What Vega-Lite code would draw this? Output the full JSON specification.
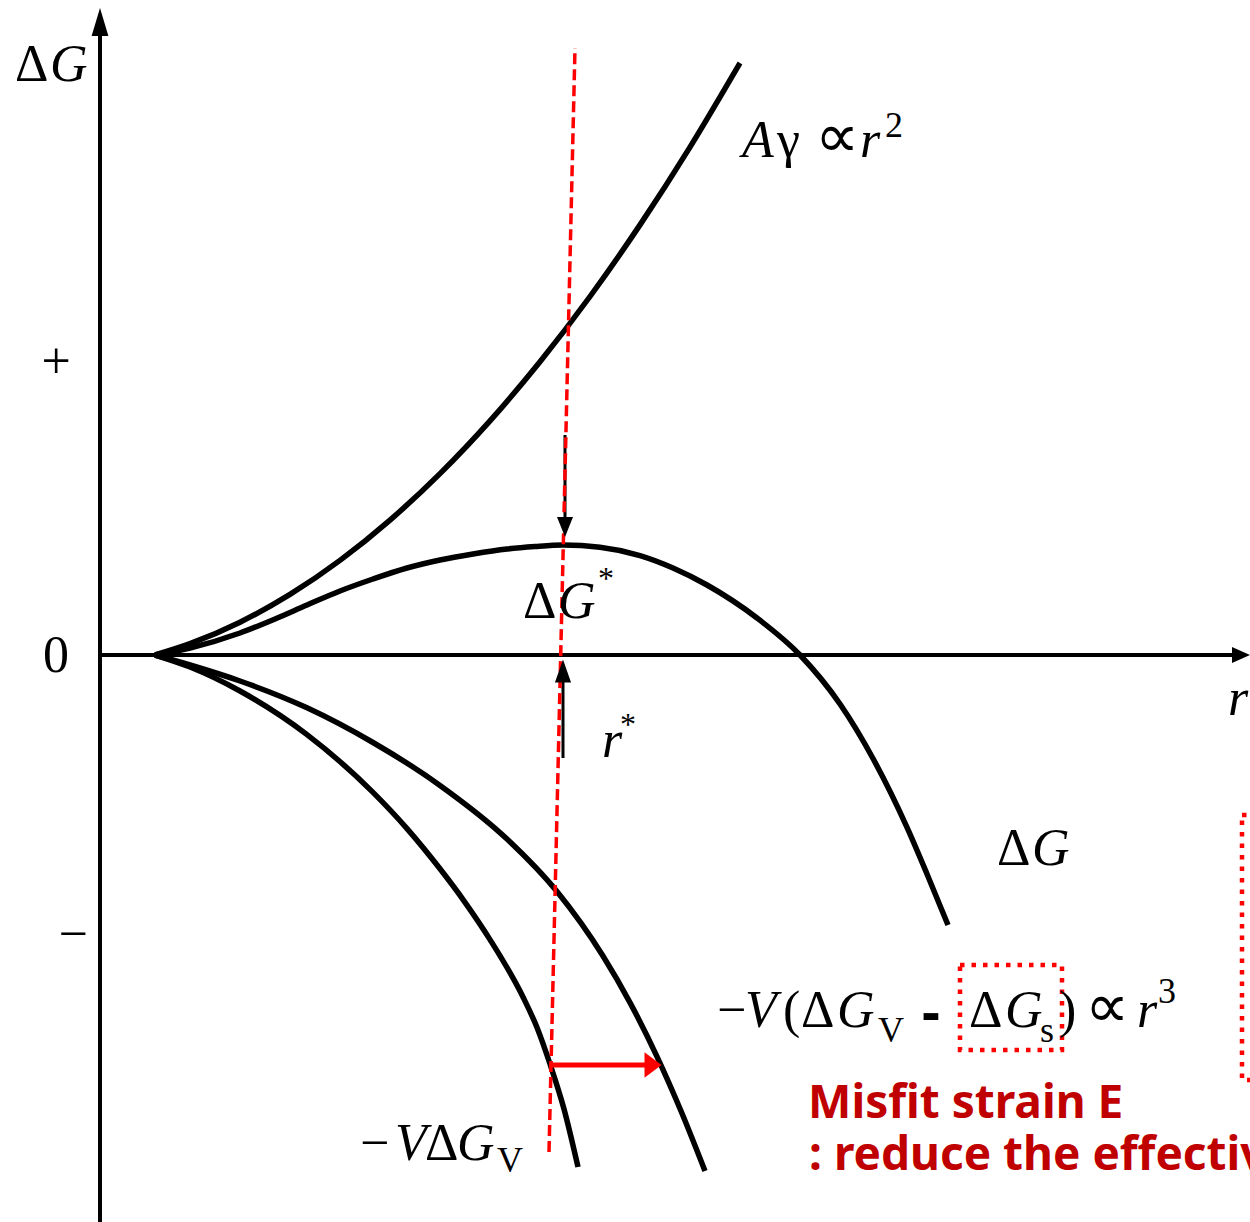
{
  "$schema": "https://vega.github.io/schema/vega-lite/v6.json",
  "width": 1250,
  "height": 1222,
  "autosize": {"type": "none"},
  "padding": 0,
  "background": "white",
  "config": {"view": {"stroke": null}},
  "datasets": {
    "curves": [
      {"curve": "surface", "r": 0.55, "g": 0.0},
      {"curve": "surface", "r": 0.90, "g": 0.113},
      {"curve": "surface", "r": 1.40, "g": 0.328},
      {"curve": "surface", "r": 1.90, "g": 0.606},
      {"curve": "surface", "r": 2.40, "g": 0.946},
      {"curve": "surface", "r": 2.90, "g": 1.349},
      {"curve": "surface", "r": 3.40, "g": 1.814},
      {"curve": "surface", "r": 3.90, "g": 2.342},
      {"curve": "surface", "r": 4.40, "g": 2.932},
      {"curve": "surface", "r": 4.90, "g": 3.585},
      {"curve": "surface", "r": 5.40, "g": 4.301},
      {"curve": "surface", "r": 5.90, "g": 5.079},
      {"curve": "surface", "r": 6.40, "g": 5.92},
      {"curve": "total", "r": 0.55, "g": 0.0},
      {"curve": "total", "r": 0.90, "g": 0.07},
      {"curve": "total", "r": 1.40, "g": 0.22},
      {"curve": "total", "r": 1.75, "g": 0.36},
      {"curve": "total", "r": 2.07, "g": 0.50},
      {"curve": "total", "r": 2.40, "g": 0.64},
      {"curve": "total", "r": 2.73, "g": 0.76},
      {"curve": "total", "r": 3.07, "g": 0.87},
      {"curve": "total", "r": 3.40, "g": 0.95},
      {"curve": "total", "r": 3.73, "g": 1.01},
      {"curve": "total", "r": 4.07, "g": 1.06},
      {"curve": "total", "r": 4.35, "g": 1.085},
      {"curve": "total", "r": 4.63, "g": 1.10},
      {"curve": "total", "r": 5.00, "g": 1.078},
      {"curve": "total", "r": 5.40, "g": 0.994},
      {"curve": "total", "r": 5.73, "g": 0.87},
      {"curve": "total", "r": 6.07, "g": 0.70},
      {"curve": "total", "r": 6.57, "g": 0.37},
      {"curve": "total", "r": 7.00, "g": 0.0},
      {"curve": "total", "r": 7.40, "g": -0.49},
      {"curve": "total", "r": 7.73, "g": -1.035},
      {"curve": "total", "r": 8.07, "g": -1.724},
      {"curve": "total", "r": 8.27, "g": -2.19},
      {"curve": "total", "r": 8.48, "g": -2.70},
      {"curve": "strained", "r": 0.55, "g": 0.0},
      {"curve": "strained", "r": 0.90, "g": -0.10},
      {"curve": "strained", "r": 1.40, "g": -0.26},
      {"curve": "strained", "r": 2.07, "g": -0.528},
      {"curve": "strained", "r": 2.73, "g": -0.875},
      {"curve": "strained", "r": 3.40, "g": -1.304},
      {"curve": "strained", "r": 4.07, "g": -1.84},
      {"curve": "strained", "r": 4.57, "g": -2.365},
      {"curve": "strained", "r": 5.03, "g": -3.01},
      {"curve": "strained", "r": 5.30, "g": -3.476},
      {"curve": "strained", "r": 5.57, "g": -4.016},
      {"curve": "strained", "r": 5.81, "g": -4.56},
      {"curve": "strained", "r": 6.05, "g": -5.16},
      {"curve": "volume", "r": 0.55, "g": 0.0},
      {"curve": "volume", "r": 0.90, "g": -0.12},
      {"curve": "volume", "r": 1.40, "g": -0.36},
      {"curve": "volume", "r": 2.07, "g": -0.796},
      {"curve": "volume", "r": 2.73, "g": -1.374},
      {"curve": "volume", "r": 3.07, "g": -1.736},
      {"curve": "volume", "r": 3.40, "g": -2.138},
      {"curve": "volume", "r": 3.65, "g": -2.473},
      {"curve": "volume", "r": 3.90, "g": -2.846},
      {"curve": "volume", "r": 4.23, "g": -3.42},
      {"curve": "volume", "r": 4.37, "g": -3.725},
      {"curve": "volume", "r": 4.50, "g": -4.09},
      {"curve": "volume", "r": 4.64, "g": -4.54},
      {"curve": "volume", "r": 4.78, "g": -5.12}
    ],
    "axisLines": [
      {"r": 0, "g": -5.8, "r2": 0, "g2": 6.25},
      {"r": 0, "g": 0, "r2": 11.35, "g2": 0}
    ],
    "stems": [
      {"r": 4.65, "g": 2.20, "r2": 4.65, "g2": 1.30},
      {"r": 4.63, "g": -1.03, "r2": 4.63, "g2": -0.25}
    ],
    "redStem": [
      {"r": 4.49, "g": -4.10, "r2": 5.45, "g2": -4.10}
    ],
    "guide": [
      {"r": 4.75, "g": 6.07},
      {"r": 4.49, "g": -4.97}
    ],
    "boxes": [
      {"r": 8.60, "g": -3.10, "r2": 9.62, "g2": -3.95},
      {"r": 11.42, "g": -1.60, "r2": 12.5, "g2": -4.25}
    ],
    "upright": [
      {"r": -0.85, "g": 5.74, "t": "Δ"},
      {"r": -0.585, "g": 2.77, "t": "+"},
      {"r": -0.57, "g": -0.17, "t": "0"},
      {"r": -0.415, "g": -2.96, "t": "−"},
      {"r": 4.23, "g": 0.37, "t": "Δ"},
      {"r": 8.97, "g": -2.10, "t": "Δ"},
      {"r": 6.17, "g": -3.72, "t": "−"},
      {"r": 6.83, "g": -3.72, "t": "("},
      {"r": 7.01, "g": -3.72, "t": "Δ"},
      {"r": 8.69, "g": -3.72, "t": "Δ"},
      {"r": 9.59, "g": -3.72, "t": ")"},
      {"r": 2.60, "g": -5.05, "t": "−"},
      {"r": 3.25, "g": -5.05, "t": "Δ"},
      {"r": 6.77, "g": 4.98, "t": "γ"}
    ],
    "proportional": [
      {"r": 9.85, "g": -3.72, "t": "∝"},
      {"r": 7.15, "g": 4.98, "t": "∝"}
    ],
    "italic": [
      {"r": -0.50, "g": 5.74, "t": "G"},
      {"r": 6.42, "g": 4.98, "t": "A"},
      {"r": 7.60, "g": 4.98, "t": "r"},
      {"r": 4.58, "g": 0.37, "t": "G"},
      {"r": 5.02, "g": -1.02, "t": "r"},
      {"r": 9.32, "g": -2.10, "t": "G"},
      {"r": 11.28, "g": -0.60, "t": "r"},
      {"r": 6.45, "g": -3.72, "t": "V"},
      {"r": 7.37, "g": -3.72, "t": "G"},
      {"r": 9.05, "g": -3.72, "t": "G"},
      {"r": 10.37, "g": -3.72, "t": "r"},
      {"r": 2.95, "g": -5.05, "t": "V"},
      {"r": 3.57, "g": -5.05, "t": "G"}
    ],
    "scripts": [
      {"r": 7.78, "g": -3.87, "t": "V"},
      {"r": 9.40, "g": -3.87, "t": "s"},
      {"r": 3.97, "g": -5.17, "t": "V"},
      {"r": 7.85, "g": 5.18, "t": "2"},
      {"r": 10.58, "g": -3.48, "t": "3"}
    ],
    "stars": [
      {"r": 4.98, "g": 0.66, "t": "*"},
      {"r": 5.20, "g": -0.80, "t": "*"}
    ],
    "dash": [
      {"r": 8.22, "g": -3.755, "t": "-"}
    ],
    "note": [
      {"r": 7.08, "g": -4.63, "t": "Misfit strain E"},
      {"r": 7.09, "g": -5.15, "t": ": reduce the effective"}
    ]
  },
  "encoding": {
    "x": {"field": "r", "type": "quantitative", "scale": {"domain": [-1, 11.5], "nice": false, "zero": false}, "axis": null},
    "y": {"field": "g", "type": "quantitative", "scale": {"domain": [-5.67, 6.55], "nice": false, "zero": false}, "axis": null}
  },
  "layer": [
    {
      "data": {"name": "axisLines"},
      "mark": {"type": "rule", "color": "black", "strokeWidth": 4},
      "encoding": {"x2": {"field": "r2"}, "y2": {"field": "g2"}}
    },
    {
      "data": {"name": "curves"},
      "mark": {"type": "line", "color": "black", "strokeWidth": 5.5, "interpolate": "monotone", "strokeJoin": "round"},
      "encoding": {"detail": {"field": "curve"}}
    },
    {
      "data": {"name": "stems"},
      "mark": {"type": "rule", "color": "black", "strokeWidth": 3},
      "encoding": {"x2": {"field": "r2"}, "y2": {"field": "g2"}}
    },
    {
      "data": {"name": "guide"},
      "mark": {"type": "line", "color": "#FF0000", "strokeWidth": 3.5, "strokeDash": [11, 5]},
      "encoding": {}
    },
    {
      "data": {"name": "redStem"},
      "mark": {"type": "rule", "color": "#FF0000", "strokeWidth": 5},
      "encoding": {"x2": {"field": "r2"}, "y2": {"field": "g2"}}
    },
    {
      "data": {"values": [{"r": 0, "g": 6.33}]},
      "mark": {"type": "point", "shape": "M0,-1L0.6,1L-0.6,1Z", "size": 784, "filled": true, "color": "black", "opacity": 1, "strokeWidth": 0}
    },
    {
      "data": {"values": [{"r": 11.41, "g": 0}]},
      "mark": {"type": "point", "shape": "M1,0L-1,0.9L-1,-0.9Z", "size": 324, "filled": true, "color": "black", "opacity": 1, "strokeWidth": 0}
    },
    {
      "data": {"values": [{"r": 4.65, "g": 1.28}]},
      "mark": {"type": "point", "shape": "M0,1L0.8,-1L-0.8,-1Z", "size": 400, "filled": true, "color": "black", "opacity": 1, "strokeWidth": 0}
    },
    {
      "data": {"values": [{"r": 4.63, "g": -0.16}]},
      "mark": {"type": "point", "shape": "M0,-1L0.7,1L-0.7,1Z", "size": 529, "filled": true, "color": "black", "opacity": 1, "strokeWidth": 0}
    },
    {
      "data": {"values": [{"r": 5.53, "g": -4.10}]},
      "mark": {"type": "point", "shape": "M1,0L-1,1.5L-1,-1.5Z", "size": 289, "filled": true, "color": "#FF0000", "opacity": 1, "strokeWidth": 0}
    },
    {
      "data": {"name": "boxes"},
      "mark": {"type": "rect", "fill": "transparent", "stroke": "#FF0000", "strokeWidth": 4.5, "strokeDash": [4.5, 7], "clip": true},
      "encoding": {"x2": {"field": "r2"}, "y2": {"field": "g2"}}
    },
    {
      "data": {"name": "upright"},
      "mark": {"type": "text", "font": "Liberation Serif", "fontSize": 52, "fontStyle": "normal", "align": "left", "baseline": "alphabetic", "color": "black"},
      "encoding": {"text": {"field": "t"}}
    },
    {
      "data": {"name": "proportional"},
      "mark": {"type": "text", "font": "Liberation Serif", "fontSize": 62, "fontStyle": "normal", "align": "left", "baseline": "alphabetic", "color": "black"},
      "encoding": {"text": {"field": "t"}}
    },
    {
      "data": {"name": "italic"},
      "mark": {"type": "text", "font": "Liberation Serif", "fontSize": 52, "fontStyle": "italic", "align": "left", "baseline": "alphabetic", "color": "black"},
      "encoding": {"text": {"field": "t"}}
    },
    {
      "data": {"name": "scripts"},
      "mark": {"type": "text", "font": "Liberation Serif", "fontSize": 36, "fontStyle": "normal", "align": "left", "baseline": "alphabetic", "color": "black"},
      "encoding": {"text": {"field": "t"}}
    },
    {
      "data": {"name": "stars"},
      "mark": {"type": "text", "font": "Liberation Serif", "fontSize": 32, "align": "left", "baseline": "alphabetic", "color": "black"},
      "encoding": {"text": {"field": "t"}}
    },
    {
      "data": {"name": "dash"},
      "mark": {"type": "text", "font": "Noto Sans", "fontSize": 56, "fontWeight": "bold", "align": "left", "baseline": "alphabetic", "color": "black"},
      "encoding": {"text": {"field": "t"}}
    },
    {
      "data": {"name": "note"},
      "mark": {"type": "text", "font": "Noto Sans", "fontSize": 46, "fontWeight": "bold", "align": "left", "baseline": "alphabetic", "color": "#C00000"},
      "encoding": {"text": {"field": "t"}}
    }
  ]
}
